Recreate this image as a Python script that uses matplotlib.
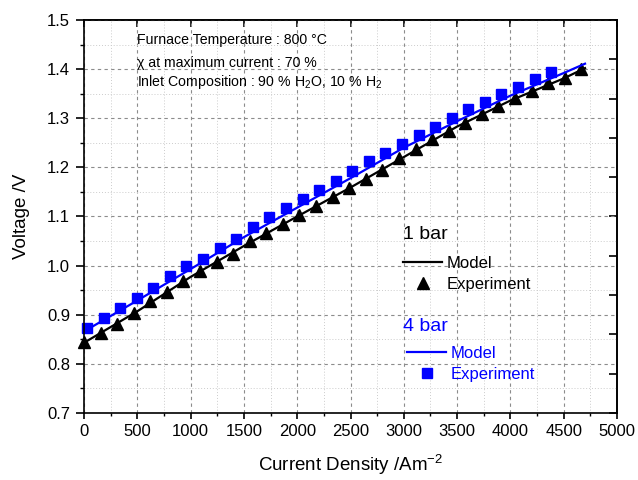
import matplotlib
matplotlib.use("Agg")
import numpy as np
import matplotlib.pyplot as plt
from matplotlib.ticker import MultipleLocator, NullFormatter

plt.rcParams['font.family'] = ['Liberation Sans', 'DejaVu Sans']
plt.rcParams['mathtext.default'] = 'regular'

# measured points, 1 bar (triangles)
exp_x_1bar = [0, 155, 311, 466, 622, 777, 933, 1088, 1244, 1399, 1555, 1710,
              1866, 2021, 2177, 2332, 2488, 2643, 2799, 2954, 3110, 3265,
              3421, 3576, 3732, 3887, 4043, 4198, 4354, 4509, 4665]
exp_v_1bar = [0.845, 0.862, 0.881, 0.904, 0.927, 0.947, 0.969, 0.990, 1.008,
              1.023, 1.050, 1.066, 1.085, 1.103, 1.122, 1.139, 1.158, 1.176,
              1.195, 1.219, 1.238, 1.257, 1.274, 1.291, 1.308, 1.324, 1.341,
              1.356, 1.371, 1.382, 1.400]

# measured points, 4 bar (squares)
exp_x_4bar = [28, 183, 339, 494, 650, 805, 961, 1116, 1272, 1428, 1583, 1739,
              1894, 2050, 2205, 2361, 2516, 2672, 2827, 2983, 3138, 3294,
              3449, 3605, 3760, 3916, 4071, 4227, 4382]
exp_v_4bar = [0.874, 0.893, 0.913, 0.934, 0.955, 0.978, 0.999, 1.014, 1.035,
              1.054, 1.078, 1.099, 1.118, 1.135, 1.154, 1.173, 1.193, 1.212,
              1.230, 1.248, 1.265, 1.282, 1.300, 1.319, 1.334, 1.349, 1.363,
              1.380, 1.395]

# model curves
model_x = [0, 500, 1000, 1500, 2000, 2500, 3000, 3500, 4000, 4500, 4700]
model_v_1bar = [0.843, 0.907, 0.977, 1.040, 1.100, 1.159, 1.221, 1.283,
                1.336, 1.381, 1.402]
model_v_4bar = [0.866, 0.929, 0.993, 1.058, 1.118, 1.178, 1.240, 1.294,
                1.346, 1.392, 1.411]

fig = plt.figure(figsize=(6.38, 4.8), dpi=100)
ax = fig.add_axes([0.1317, 0.1396, 0.8354, 0.8188])

ax.set_xlim(0, 5000)
ax.set_ylim(0.7, 1.5)
ax.xaxis.set_major_locator(MultipleLocator(500))
ax.xaxis.set_minor_locator(MultipleLocator(250))
ax.yaxis.set_major_locator(MultipleLocator(0.1))
ax.yaxis.set_minor_locator(MultipleLocator(0.05))
ax.yaxis.set_major_formatter(lambda v, p: '%.1f' % v)

ax.set_axisbelow(True)
ax.grid(which='major', ls=(0, (3, 3)), color='0.55', lw=0.8)
ax.grid(which='minor', ls=(0, (1, 2)), color='0.8', lw=0.7)

line1, = ax.plot(model_x, model_v_1bar, color='black', lw=1.6)
pts1, = ax.plot(exp_x_1bar, exp_v_1bar, ls='none', marker='^', ms=9,
                color='black', clip_on=False)
line4, = ax.plot(model_x, model_v_4bar, color='blue', lw=1.6)
pts4, = ax.plot(exp_x_4bar, exp_v_4bar, ls='none', marker='s', ms=7,
                color='blue', clip_on=False)

for s in ax.spines.values():
    s.set_linewidth(1.2)
ax.tick_params(axis='y', which='major', direction='out', length=6, width=1.2,
               labelsize=12, pad=4)
ax.tick_params(axis='y', which='minor', direction='out', length=3, width=1.0)
ax.tick_params(axis='x', which='major', direction='out', length=4, width=1.2,
               labelsize=12, pad=4)
ax.tick_params(axis='x', which='minor', direction='out', length=2.5, width=1.0)

# opposite axes carry their own inward ticks
secy = ax.secondary_yaxis('right')
secy.set_yticks(np.linspace(0.7, 1.5, 11))
secy.yaxis.set_major_formatter(NullFormatter())
secy.tick_params(direction='in', length=6, width=1.2)
secy.spines['right'].set_linewidth(1.2)
secx = ax.secondary_xaxis('top')
secx.set_xticks(np.arange(0, 5001, 500))
secx.xaxis.set_major_formatter(NullFormatter())
secx.tick_params(direction='in', length=5, width=1.2)
secx.spines['top'].set_linewidth(1.2)

ax.set_xlabel('Current Density /Am$^{-2}$', fontsize=13.5, labelpad=10)
ax.set_ylabel('Voltage /V', fontsize=13.5, labelpad=12)

ax.text(0.0994, 0.938, 'Furnace Temperature : 800 \u00b0C', fontsize=10.2,
        transform=ax.transAxes, va='baseline')
ax.text(0.0994, 0.881, '\u03c7 at maximum current : 70 %', fontsize=10.2,
        transform=ax.transAxes, va='baseline')
ax.text(0.0994, 0.832, 'Inlet Composition : 90 % H$_2$O, 10 % H$_2$',
        fontsize=10.2, transform=ax.transAxes, va='baseline')

ax.text(0.5985, 0.453, '1 bar', fontsize=14, transform=ax.transAxes,
        va='center')
leg1 = ax.legend([line1, pts1], ['Model', 'Experiment'], loc='upper left',
                 bbox_to_anchor=(0.5985, 0.400), frameon=False, fontsize=12,
                 borderpad=0, borderaxespad=0, handlelength=2.34,
                 handletextpad=0.3, labelspacing=0.36)
ax.add_artist(leg1)

ax.text(0.5985, 0.221, '4 bar', fontsize=14, color='blue',
        transform=ax.transAxes, va='center')
ax.legend([line4, pts4], ['Model', 'Experiment'], loc='upper left',
          bbox_to_anchor=(0.606, 0.171), frameon=False, fontsize=12,
          borderpad=0, borderaxespad=0, handlelength=2.34,
          handletextpad=0.3, labelspacing=0.36, labelcolor='blue')

fig.savefig('out.png', dpi=100)
